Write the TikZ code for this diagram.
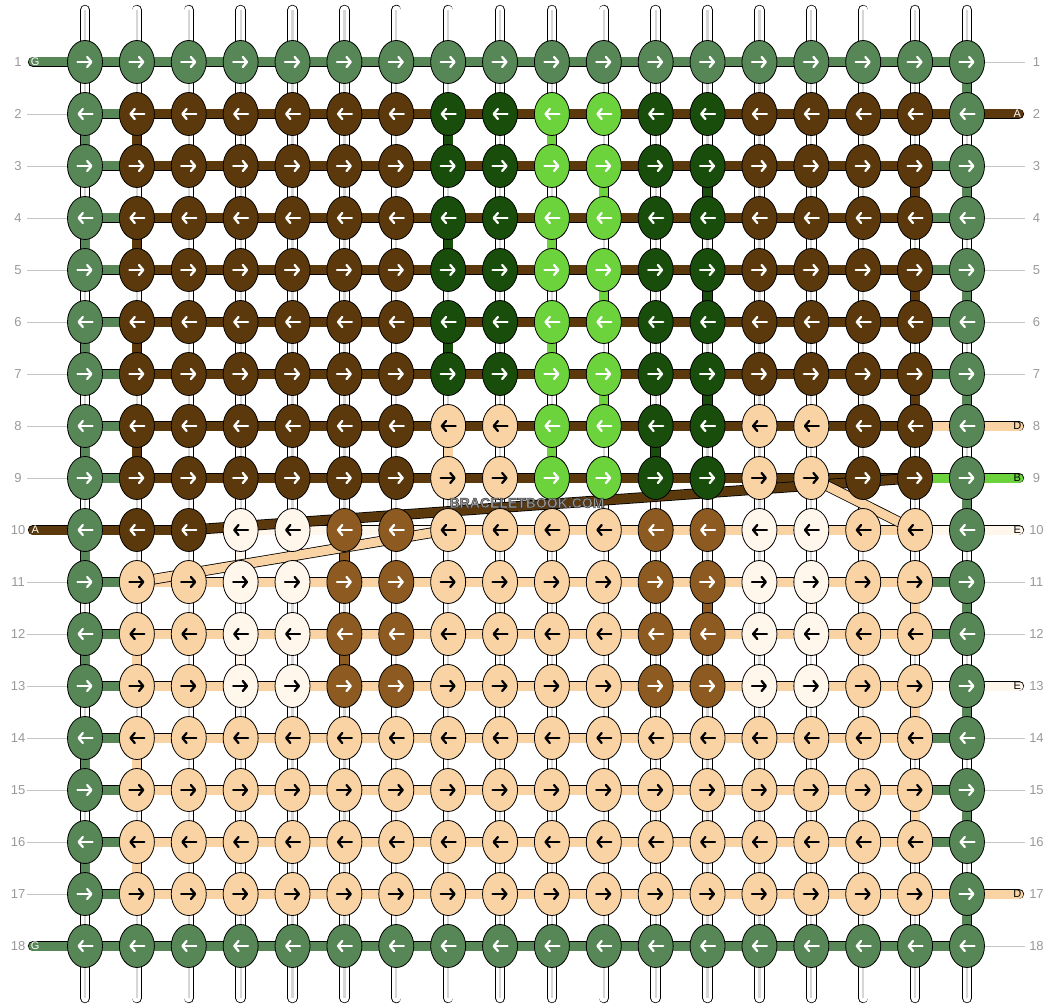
\documentclass[tikz,border=0pt]{standalone}
\usepackage{fontspec}
\setmainfont{Liberation Sans}
\usetikzlibrary{shapes.geometric,arrows.meta}
\pgfdeclarelayer{warpL}
\pgfdeclarelayer{segL}
\pgfdeclarelayer{diagL}
\pgfsetlayers{warpL,segL,diagL,main}
\definecolor{gn}{HTML}{578657}
\definecolor{br}{HTML}{5B390D}
\definecolor{dg}{HTML}{184D0B}
\definecolor{lg}{HTML}{6CD33C}
\definecolor{pe}{HTML}{F9D3A3}
\definecolor{cr}{HTML}{FFF6EC}
\definecolor{mb}{HTML}{8D5A22}
\colorlet{gnA}{white}
\colorlet{brA}{white}
\colorlet{dgA}{white}
\colorlet{lgA}{white}
\colorlet{mbA}{white}
\colorlet{peA}{black}
\colorlet{crA}{black}
\definecolor{labc}{HTML}{9A9A9A}
\definecolor{lablc}{HTML}{C4C4C4}
\definecolor{warpg}{HTML}{D6D6D6}
\definecolor{wmgray}{HTML}{989898}
\begin{document}
\begin{tikzpicture}[x=1pt,y=-1pt,
  knot/.style={ellipse, draw=black, line width=0.8pt, minimum width=35pt, minimum height=43pt, inner sep=0pt},
  arr/.style={line width=2.3pt, line cap=round, -{Straight Barb[length=4.2pt,width=10pt,round]}},
  seg/.style={draw=black, line width=0.8pt, double=#1, double distance=9pt},
  tailseg/.style={seg=#1, line cap=round},
  warp/.style={draw=black, line width=0.8pt, double=white, double distance=8.8pt, line cap=round},
  warpc/.style={draw=warpg, line width=2.2pt},
  lab/.style={text=labc, font=\fontsize{13}{13}\selectfont, inner sep=0pt},
  labline/.style={draw=lablc, line width=0.9pt},
  taillet/.style={font=\fontsize{11}{11}\selectfont, inner sep=0pt},
  wm/.style={font=\bfseries\fontsize{14}{14}\selectfont, inner sep=0pt}
]
\begin{pgfonlayer}{warpL}
\fill[white] (0,0) rectangle (1052,1008);
\end{pgfonlayer}
\useasboundingbox (0,0) rectangle (1052,1008);
\begin{scope}[x=51.88pt, y=-52pt, shift={(33.12pt,-10pt)}]
% warps
\begin{pgfonlayer}{warpL}
\foreach \j in {1,...,18} {
  \coordinate (wt-\j) at (\j,0);
  \coordinate (wb-\j) at (\j,19);
  \draw[warp] (wt-\j) -- (wb-\j);
  \draw[warpc] (wt-\j) -- (wb-\j);
}
\end{pgfonlayer}
% knots
\foreach \ilist/\lst in {%
  {1,18}/{gn,gn,gn,gn,gn,gn,gn,gn,gn,gn,gn,gn,gn,gn,gn,gn,gn,gn},
  {2,3,4,5,6,7}/{gn,br,br,br,br,br,br,dg,dg,lg,lg,dg,dg,br,br,br,br,gn},
  {8,9}/{gn,br,br,br,br,br,br,pe,pe,lg,lg,dg,dg,pe,pe,br,br,gn},
  {10}/{gn,br,br,cr,cr,mb,mb,pe,pe,pe,pe,mb,mb,cr,cr,pe,pe,gn},
  {11,12,13}/{gn,pe,pe,cr,cr,mb,mb,pe,pe,pe,pe,mb,mb,cr,cr,pe,pe,gn},
  {14,15,16,17}/{gn,pe,pe,pe,pe,pe,pe,pe,pe,pe,pe,pe,pe,pe,pe,pe,pe,gn}%
}{
  \foreach \i in \ilist {
    \pgfmathsetmacro\ds{-7.5*(1-2*mod(\i+1,2))}
    \pgfmathsetmacro\de{7.5*(1-2*mod(\i+1,2))}
    \foreach \cc [count=\j] in \lst {
      \node[knot, fill=\cc] (k-\i-\j) at (\j,\i) {};
      \draw[arr, draw=\cc A] ([xshift=\ds pt]k-\i-\j.center) -- ([xshift=\de pt]k-\i-\j.center);
    }
  }
}
% horizontal and vertical segments
\begin{pgfonlayer}{segL}
\foreach \ilist/\lst in {%
  {1,18}/{gn,gn,gn,gn,gn,gn,gn,gn,gn,gn,gn,gn,gn,gn,gn,gn,gn},
  {2}/{gn,br,br,br,br,br,br,br,br,br,br,br,br,br,br,br,br},
  {3,4,5,6,7}/{gn,br,br,br,br,br,br,br,br,br,br,br,br,br,br,br,gn},
  {8}/{gn,br,br,br,br,br,br,br,br,br,br,br,br,br,br,br,pe},
  {9}/{gn,br,br,br,br,br,br,br,br,br,br,br,br,br,br,br,lg},
  {10}/{br,br,cr,cr,cr,cr,cr,pe,pe,pe,pe,pe,pe,pe,pe,pe,cr},
  {11,12,14,15,16}/{gn,pe,pe,pe,pe,pe,pe,pe,pe,pe,pe,pe,pe,pe,pe,pe,gn},
  {13}/{gn,pe,pe,pe,pe,pe,pe,pe,pe,pe,pe,pe,pe,pe,pe,pe,cr},
  {17}/{gn,pe,pe,pe,pe,pe,pe,pe,pe,pe,pe,pe,pe,pe,pe,pe,pe}%
}{
  \foreach \i in \ilist {
    \foreach \cc [count=\j] in \lst {
      \pgfmathtruncatemacro\jn{\j+1}
      \draw[seg=\cc] (k-\i-\j.center) -- (k-\i-\jn.center);
    }
  }
}
\foreach \j/\i/\cc in {%
  18/1/gn, 1/2/gn, 18/3/gn, 1/4/gn, 18/5/gn, 1/6/gn, 18/7/gn, 1/8/gn, 18/9/gn,
  1/10/gn, 18/11/gn, 1/12/gn, 18/13/gn, 1/14/gn, 18/15/gn, 1/16/gn, 18/17/gn,
  2/2/br, 17/3/br, 2/4/br, 17/5/br, 2/6/br, 17/7/br, 2/8/br,
  8/2/dg, 13/3/dg, 8/4/dg, 13/5/dg, 8/6/dg, 13/7/dg, 12/8/dg,
  10/2/lg, 11/3/lg, 10/4/lg, 11/5/lg, 10/6/lg, 11/7/lg, 10/8/lg,
  8/8/pe, 17/11/pe, 2/12/pe, 17/13/pe, 2/14/pe, 17/15/pe, 2/16/pe,
  4/10/cr, 15/11/cr, 4/12/cr,
  6/10/mb, 13/11/mb, 6/12/mb%
}{
  \pgfmathtruncatemacro\inext{\i+1}
  \draw[seg=\cc] (k-\i-\j.center) -- (k-\inext-\j.center);
}
% tails
\foreach \i/\cc in {1/gn, 10/br, 18/gn}{
  \coordinate (tl-\i) at (0,\i);
  \draw[tailseg=\cc] (tl-\i) -- (k-\i-1.center);
}
\foreach \i/\cc in {2/br, 8/pe, 9/lg, 10/cr, 13/cr, 17/pe}{
  \coordinate (tr-\i) at (19,\i);
  \draw[tailseg=\cc] (k-\i-18.center) -- (tr-\i);
}
\end{pgfonlayer}
% diagonal strands
\begin{pgfonlayer}{diagL}
\draw[seg=br] (k-9-17.center) -- (k-10-3.center);
\draw[seg=pe] (k-9-15.center) -- (k-10-17.center);
\draw[seg=pe] (k-10-8.center) -- (k-11-2.center);
\end{pgfonlayer}
% tail letters
\foreach \i/\t/\tc in {1/G/white, 10/A/white, 18/G/white}{
  \node[taillet, text=\tc] (tlt-\i) at (0.04,\i) {\t};
}
\foreach \i/\t/\tc in {2/A/white, 8/D/black, 9/B/black, 10/E/black, 13/E/black, 17/D/black}{
  \node[taillet, text=\tc] (trt-\i) at (18.97,\i) {\t};
}
% row labels
\foreach \i in {1,...,18}{
  \node[lab] (ll-\i) at (-0.29,\i) {\i};
  \node[lab] (rl-\i) at (19.34,\i) {\i};
}
\foreach \i in {2,3,4,5,6,7,8,9,11,12,13,14,15,16,17}{
  \coordinate (lls-\i) at (-0.115,\i);
  \draw[labline] (lls-\i) -- (k-\i-1.west);
}
\foreach \i in {1,3,4,5,6,7,11,12,14,15,16,18}{
  \coordinate (rls-\i) at (19.115,\i);
  \draw[labline] (k-\i-18.east) -- (rls-\i);
}
% watermark (gray letters with a dark outline)
\node[wm] (wmark) at (9.52,9.48) {\textcolor{wmgray}{\special{pdf:literal direct 0.2 G 0.45 w 2 Tr}BRACELETBOOK.COM\special{pdf:literal direct 0 Tr}}};
\end{scope}
\end{tikzpicture}
\end{document}
